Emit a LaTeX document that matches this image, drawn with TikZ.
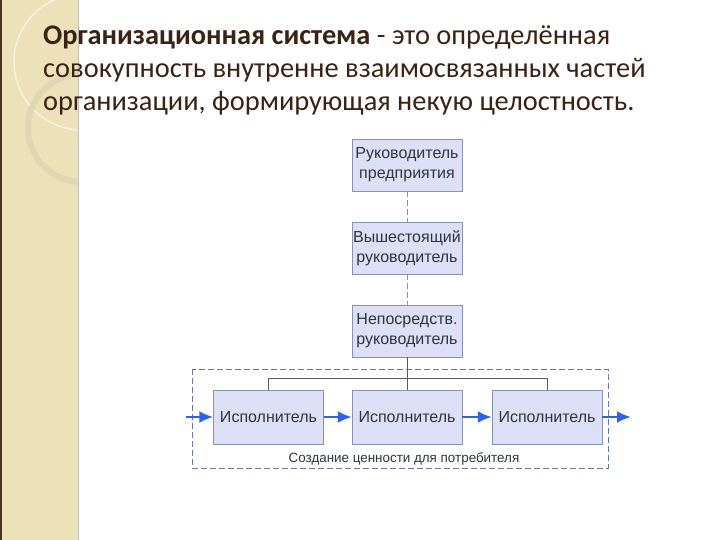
\documentclass[tikz,border=0pt]{standalone}
\usepackage{fontspec}
\setmainfont{Carlito}
\newfontfamily\diagfont{Liberation Sans}
\usetikzlibrary{positioning, arrows.meta, calc}

\definecolor{stripbeige}{HTML}{EDE1BA}
\definecolor{stripedge}{HTML}{4A3320}
\definecolor{titlebrown}{HTML}{3A2214}
\definecolor{boxfill}{HTML}{DCDFF5}
\definecolor{boxedge}{HTML}{8793B5}
\definecolor{boxtext}{HTML}{2F3440}
\definecolor{linkblue}{HTML}{6F93D6}
\definecolor{flowblue}{HTML}{2F62E6}
\definecolor{frameline}{HTML}{6B7A9C}

\begin{document}
\begin{tikzpicture}[x=1pt, y=-1pt,
    unit/.style={draw=boxedge, fill=boxfill, minimum width=110pt, minimum height=52pt,
      align=center, inner sep=1pt, text=boxtext, font=\diagfont\fontsize{16}{20}\selectfont},
    worker/.style={unit, minimum height=54pt},
    link/.style={draw=linkblue, dash pattern=on 6pt off 3pt, line width=0.8pt},
    flow/.style={draw=flowblue, line width=2.4pt, -{Latex[length=14pt, width=12pt]}},
    tree/.style={draw=gray!70!black, line width=0.8pt},
    headline/.style={anchor=base west, inner sep=0pt, text=titlebrown, font=\fontsize{28.4}{33}\selectfont}]
    \useasboundingbox (0,0) rectangle (720,540);
    \fill[white] (0,0) rectangle (720,540);

    % left strip of the slide
    \fill[stripbeige] (0,0) rectangle (78,540);
    \begin{scope}
      \clip (0,0) rectangle (78,540);
      \draw[white!55!stripbeige, line width=1.5pt] (82,62) circle (68);
      \draw[black!5!stripbeige, line width=6pt] (82,128) circle (54);
    \end{scope}
    \draw[stripedge, line width=2.5pt] (1,0) -- (1,540);
    \draw[gray!50, line width=1pt] (78,0) -- (78,540);

    % title
    \node[headline] (title1) at (43,45) {\textbf{Организационная система} - это определённая};
    \node[headline] (title2) at (43,78) {совокупность внутренне взаимосвязанных частей};
    \node[headline] (title3) at (43,111) {организации, формирующая некую целостность.};

    % chain of managers
    \node[unit] (chief) at (407,165) {Руководитель\\предприятия};
    \node[unit] (senior) at (407,248) {Вышестоящий\\руководитель};
    \node[unit] (direct) at (407,331) {Непосредств.\\руководитель};
    \draw[link] (chief) -- (senior);
    \draw[link] (senior) -- (direct);

    % value chain
    \draw[frameline, dash pattern=on 6pt off 3pt, line width=0.8pt] (192,369) rectangle (608,468);
    \node[worker] (w1) at (268.5,417) {Исполнитель};
    \node[worker] (w2) at (407,417) {Исполнитель};
    \node[worker] (w3) at (547,417) {Исполнитель};
    \node[text=boxtext, font=\diagfont\fontsize{13.4}{15}\selectfont] (caption) at (404,459)
      {Создание ценности для потребителя};

    \coordinate (fork) at ($(direct.south)+(0,21)$);
    \draw[tree] (direct.south) -- (w2.north);
    \draw[tree] (w1.north) |- (fork) -| (w3.north);

    \coordinate (entry) at (186,417);
    \coordinate (exit) at (631,417);
    \draw[flow] (entry) -- (w1);
    \draw[flow] (w1) -- (w2);
    \draw[flow] (w2) -- (w3);
    \draw[flow] (w3) -- (exit);
  \end{tikzpicture}
\end{document}
